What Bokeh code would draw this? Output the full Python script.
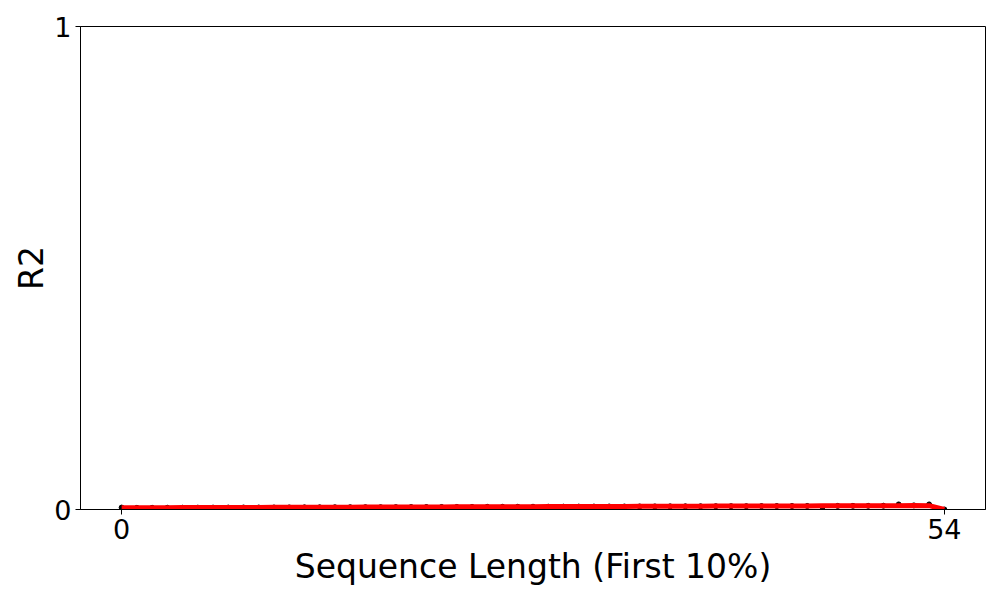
from bokeh.plotting import figure
from bokeh.embed import file_html
from bokeh.resources import INLINE
from bokeh.models import FixedTicker, Range1d

seq_len = list(range(0, 55))
r2_values = [0.0040, 0.0034, 0.0035, 0.0036, 0.0037, 0.0038, 0.0039, 0.0040, 0.0041, 0.0041,
             0.0042, 0.0043, 0.0044, 0.0045, 0.0046, 0.0047, 0.0048, 0.0048, 0.0049, 0.0050,
             0.0051, 0.0052, 0.0053, 0.0054, 0.0055, 0.0055, 0.0056, 0.0057, 0.0058, 0.0059,
             0.0060, 0.0061, 0.0062, 0.0062, 0.0063, 0.0064, 0.0065, 0.0066, 0.0067, 0.0068,
             0.0069, 0.0069, 0.0070, 0.0071, 0.0072, 0.0073, 0.0050, 0.0075, 0.0076, 0.0076,
             0.0078, 0.0105, 0.0085, 0.0105, 0.0000]
smooth_values = [0.0035, 0.0036, 0.0037, 0.0038, 0.0039, 0.0040, 0.0041, 0.0042, 0.0043, 0.0043,
                 0.0044, 0.0045, 0.0046, 0.0047, 0.0048, 0.0049, 0.0050, 0.0050, 0.0051, 0.0052,
                 0.0053, 0.0054, 0.0055, 0.0056, 0.0057, 0.0057, 0.0058, 0.0059, 0.0060, 0.0061,
                 0.0062, 0.0063, 0.0064, 0.0064, 0.0065, 0.0066, 0.0067, 0.0068, 0.0069, 0.0070,
                 0.0071, 0.0071, 0.0072, 0.0073, 0.0074, 0.0075, 0.0076, 0.0077, 0.0078, 0.0078,
                 0.0079, 0.0080, 0.0081, 0.0080, 0.0000]
x_ticks = [0, 54]
y_ticks = [0, 1]

p = figure(width=1000, height=600, output_backend="svg", toolbar_location=None,
           x_range=Range1d(-2.7, 56.7), y_range=Range1d(0, 1),
           min_border_left=80, min_border_right=15, min_border_top=26, min_border_bottom=91)
p.background_fill_color = "white"
p.border_fill_color = "white"
p.outline_line_color = "black"
p.outline_line_width = 1
p.xgrid.visible = False
p.ygrid.visible = False

p.line(seq_len, r2_values, line_color="black", line_width=1.5)
p.scatter(seq_len, r2_values, size=5, fill_color="black", line_color="black")
p.line(seq_len, smooth_values, line_color="red", line_width=5)

font = "DejaVu Sans"
for ax in (p.xaxis[0], p.yaxis[0]):
    ax.major_label_text_font = font
    ax.major_label_text_font_size = "27px"
    ax.major_label_text_color = "black"
    ax.axis_label_text_font = font
    ax.axis_label_text_font_size = "33px"
    ax.axis_label_text_font_style = "normal"
    ax.axis_label_text_color = "black"
    ax.axis_line_color = "black"
    ax.major_tick_line_color = "black"
    ax.major_tick_out = 5
    ax.major_tick_in = 0
    ax.minor_tick_line_color = None

p.xaxis.ticker = FixedTicker(ticks=x_ticks)
p.yaxis.ticker = FixedTicker(ticks=y_ticks)
p.xaxis.axis_label = "Sequence Length (First 10%)"
p.yaxis.axis_label = "R2"
p.xaxis.major_label_standoff = 4
p.yaxis.major_label_standoff = 4
p.xaxis.axis_label_standoff = 5
p.yaxis.axis_label_standoff = 0

open("out.html", "w").write(file_html(p, INLINE))
